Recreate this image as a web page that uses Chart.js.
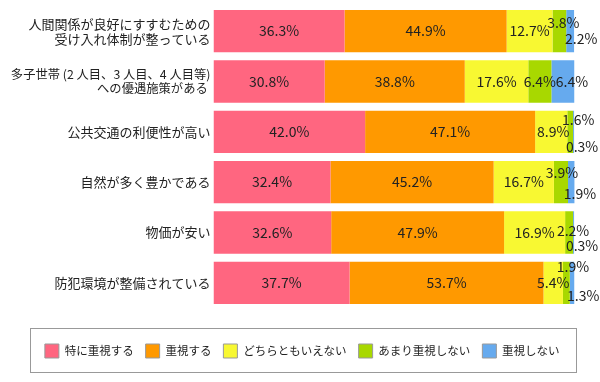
<!DOCTYPE html>
<html><head><meta charset="utf-8">
<script src="https://cdn.jsdelivr.net/npm/chart.js@4/dist/chart.umd.min.js"></script>
<style>html,body{margin:0;padding:0;background:#fff}#wrap{width:600px;height:382px}</style>
</head><body><div id="wrap"><canvas id="c" width="600" height="382"></canvas></div>
<script>
const categories = [
  ['人間関係が良好にすすむための','受け入れ体制が整っている'],
  ['多子世帯 (2 人目、3 人目、4 人目等)','への優遇施策がある '],
  '公共交通の利便性が高い',
  '自然が多く豊かである',
  '物価が安い',
  '防犯環境が整備されている'
];
const seriesNames = ['特に重視する','重視する','どちらともいえない','あまり重視しない','重視しない'];
const verySerious = [36.3, 30.8, 42.0, 32.4, 32.6, 37.7];
const serious     = [44.9, 38.8, 47.1, 45.2, 47.9, 53.7];
const neutral     = [12.7, 17.6,  8.9, 16.7, 16.9,  5.4];
const notMuch     = [ 3.8,  6.4,  1.6,  3.9,  2.2,  1.9];
const notAtAll    = [ 2.2,  6.4,  0.3,  1.9,  0.3,  1.3];

const colors = ['#FF6680','#FF9900','#F8F832','#A8D800','#66AAEE'];
const seriesValues = [verySerious, serious, neutral, notMuch, notAtAll];

// label nudges [dx, dy] per series per row (text placement only)
const labelNudge = {
  2: [[0,0],[0,0],[2,0],[0,0],[0,0],[0,0]],
  3: [[4,-8.5],[0,0],[8,-12.5],[1,-9.5],[4,-1.5],[6.5,-16.5]],
  4: [[11,7.5],[9,0],[8.5,14.5],[8.5,11.5],[8.5,13.5],[11,12.5]]
};

const FONT = '"Noto Sans CJK JP", "Noto Sans", sans-serif';

const valueLabels = {
  id: 'valueLabels',
  afterDatasetsDraw(chart) {
    const ctx = chart.ctx;
    ctx.save();
    ctx.font = '14px ' + FONT;
    ctx.fillStyle = '#222';
    ctx.textAlign = 'center';
    ctx.textBaseline = 'middle';
    chart.data.datasets.forEach((ds, di) => {
      const meta = chart.getDatasetMeta(di);
      meta.data.forEach((el, i) => {
        const v = ds.data[i];
        const n = (labelNudge[di] && labelNudge[di][i]) || [0,0];
        const x = (el.x + el.base) / 2 + n[0];
        const y = el.y + n[1];
        ctx.fillText(v.toFixed(1) + '%', x, y);
      });
    });
    ctx.restore();
  }
};

// let long category labels extend left of the axis box (no clipping)
const noLabelClip = {
  id: 'noLabelClip',
  afterLayout(chart) {
    chart.scales.y._computeLabelArea = () => undefined;
  }
};

const legendFrame = {
  id: 'legendFrame',
  afterDraw(chart) {
    const lg = chart.legend;
    const ctx = chart.ctx;
    ctx.save();
    ctx.strokeStyle = '#999';
    ctx.lineWidth = 1;
    ctx.strokeRect(30.5, Math.round(lg.top) - 3.5, 546, 44);
    ctx.restore();
  }
};

new Chart(document.getElementById('c'), {
  type: 'bar',
  data: {
    labels: categories,
    datasets: seriesValues.map((vals, k) => ({
      label: seriesNames[k],
      data: vals,
      backgroundColor: colors[k],
      borderWidth: 0,
      barPercentage: 0.84,
      categoryPercentage: 1.0
    }))
  },
  options: {
    indexAxis: 'y',
    responsive: false,
    animation: false,
    devicePixelRatio: 1,
    layout: { padding: { top: 6, right: 25.5, bottom: 14, left: 30 } },
    scales: {
      x: {
        stacked: true, min: 0, max: 100,
        ticks: { display: false },
        grid: { display: false, drawTicks: false },
        border: { display: false },
        afterFit(s) { s.height = 24; }
      },
      y: {
        stacked: true,
        ticks: {
          color: '#222', padding: 3,
          font: (c) => ({ family: FONT, size: c.index === 1 ? 12.3 : 13, lineHeight: 1.15 })
        },
        grid: { display: false, drawTicks: false },
        border: { display: false },
        afterFit(s) { s.width = 183.5; s.paddingTop = 0; s.paddingBottom = 0; }
      }
    },
    plugins: {
      tooltip: { enabled: false },
      legend: {
        position: 'bottom',
        labels: {
          boxWidth: 14, boxHeight: 14, padding: 12,
          color: '#222',
          font: { family: FONT, size: 11.5 },
          generateLabels(chart) {
            const items = Chart.defaults.plugins.legend.labels.generateLabels(chart);
            return items.map(it => Object.assign(it, { strokeStyle: '#999', lineWidth: 1 }));
          }
        }
      }
    }
  },
  plugins: [valueLabels, noLabelClip, legendFrame]
});
</script></body></html>
